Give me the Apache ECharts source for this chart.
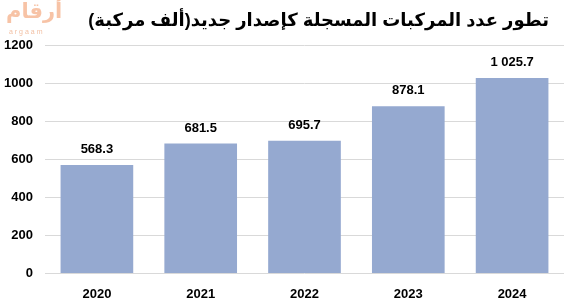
<!DOCTYPE html>
<html><head><meta charset="utf-8">
<script src="https://cdn.jsdelivr.net/npm/echarts@6/dist/echarts.min.js"></script>
<style>html,body{margin:0;padding:0;background:#fff}#c{width:564px;height:305px}</style>
</head><body><div id="c"></div>
<script>
const categories = ['2020','2021','2022','2023','2024'];
const values = [568.3, 681.5, 695.7, 878.1, 1025.7];
const yTicks = [0, 200, 400, 600, 800, 1000, 1200];
const title = 'تطور عدد المركبات المسجلة كإصدار جديد(ألف مركبة)';

function fmt(v){
  const s = v.toFixed(1);
  const [i,d] = s.split('.');
  return i.replace(/\B(?=(\d{3})+(?!\d))/g,' ') + '.' + d;
}
const chart = echarts.init(document.getElementById('c'), null, {renderer:'canvas'});
chart.setOption({
  animation:false,
  textStyle:{fontFamily:'Arial, "Liberation Sans", sans-serif'},
  title:{text:title, right:10, top:7, textStyle:{fontSize:18, fontWeight:'bold', color:'#000', fontFamily:'Arial, "Liberation Sans", "DejaVu Sans", sans-serif'}},
  graphic:[
    {type:'text', left:6, top:2, style:{text:'أرقام', font:'bold 21px "DejaVu Sans", sans-serif', fill:'#F7C3A6'}},
    {type:'text', left:9, top:29, style:{text:'a r g a a m', font:'7px Arial, sans-serif', fill:'#F2C0A4'}}
  ],
  grid:{left:45, right:0, top:45, bottom:32},
  xAxis:{type:'category', data:categories,
    axisLine:{show:false}, axisTick:{show:false},
    axisLabel:{fontSize:13, fontWeight:'bold', color:'#000', margin:15}},
  yAxis:{type:'value', min:yTicks[0], max:yTicks[yTicks.length-1], interval:200,
    axisLine:{show:false}, axisTick:{show:false},
    axisLabel:{fontSize:13, fontWeight:'bold', color:'#000', margin:12, formatter:v=>String(v)},
    splitLine:{lineStyle:{color:'#D9D9D9', width:1}}},
  series:[{type:'bar', data:values, barWidth:'70%',
    itemStyle:{color:'#95A9D0'},
    label:{show:true, position:'top', distance:9, fontSize:13, fontWeight:'bold', color:'#000',
      formatter:p=>fmt(p.value)}}]
});
</script></body></html>
